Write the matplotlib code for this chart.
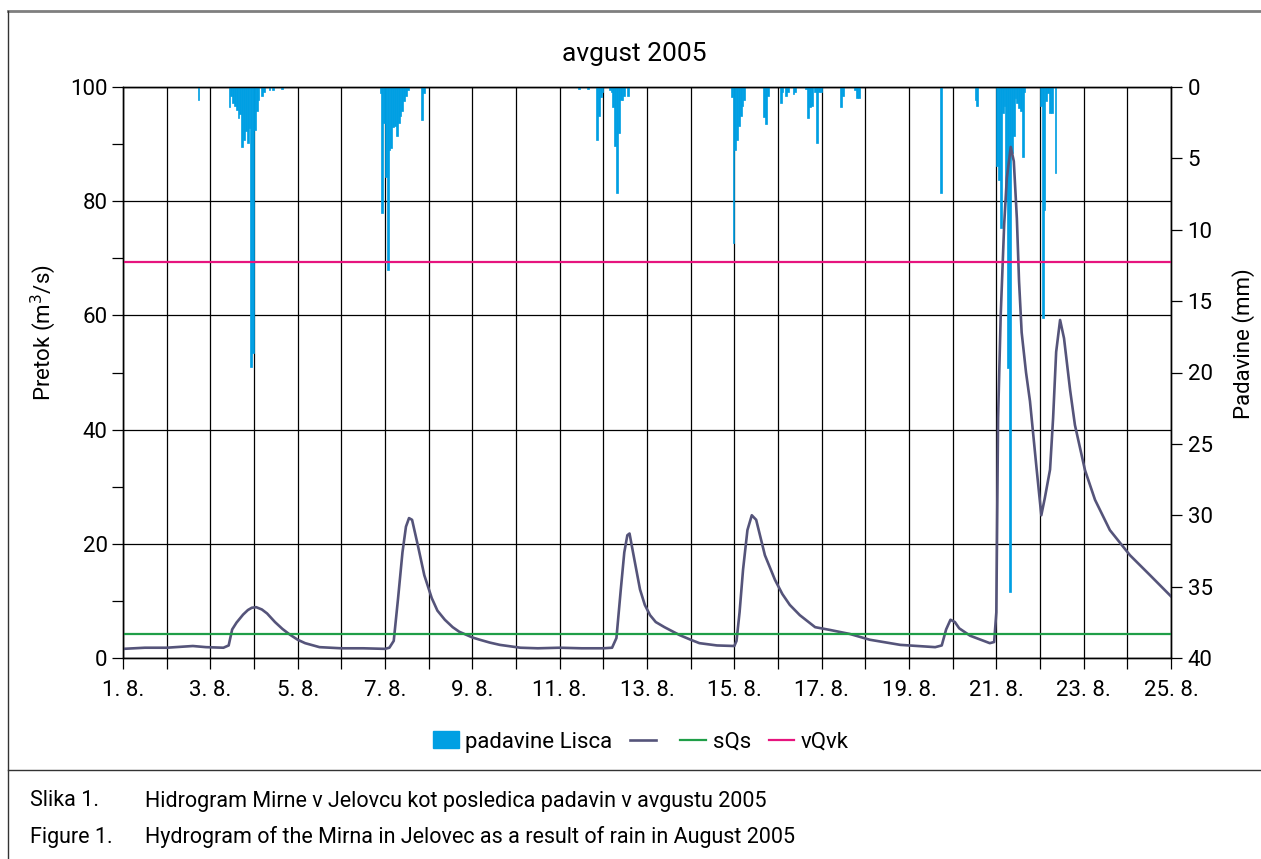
import matplotlib
matplotlib.use("Agg")
import matplotlib.pyplot as plt
from matplotlib.lines import Line2D
from matplotlib.patches import Patch
from matplotlib.ticker import MultipleLocator

plt.rcParams['font.family'] = ['Roboto', 'DejaVu Sans']

# Hourly rainfall at Lisca (hours counted from 1. 8. 00:00), mm
rain_hours = [41,
              58, 59, 60, 61, 62, 63, 64, 65, 66, 67, 68, 69, 70, 71, 72, 73, 74, 76, 77, 80, 82, 87,
              141, 142, 143, 144, 145, 146, 147, 148, 149, 150, 151, 152, 153, 154, 155, 156, 164, 165,
              250, 255, 260, 261, 262, 263, 267, 268, 269, 270, 271, 272, 273, 274, 275, 277,
              334, 335, 336, 337, 338, 339, 340, 341, 352, 353, 354, 361, 362, 364, 365, 368, 369,
              375, 376, 377, 378, 380, 381, 382, 383, 394, 395, 402, 403, 404,
              449, 468, 469,
              480, 481, 482, 483, 484, 485, 486, 487, 488, 489, 490, 491, 492, 493, 494, 495,
              504, 505, 506, 507, 508, 509, 510, 512]
rain_mm = [0.9,
           1.4, 0.6, 1.1, 1.3, 1.6, 2.2, 1.9, 4.2, 3.7, 3.1, 3.9, 2.9, 19.6, 18.6, 3.0, 1.7, 0.9, 0.6, 0.35, 0.2, 0.2, 0.15,
           0.4, 8.8, 2.5, 6.3, 12.8, 4.4, 4.3, 2.8, 2.7, 3.4, 2.5, 2.0, 1.7, 1.0, 0.6, 0.2, 2.3, 0.4,
           0.15, 0.15, 3.7, 2.0, 0.7, 0.35, 0.2, 0.35, 1.4, 4.1, 7.4, 3.2, 0.9, 0.9, 0.6, 0.6,
           0.7, 10.9, 4.4, 3.7, 2.7, 2.0, 1.3, 0.9, 2.1, 2.6, 0.6, 1.1, 0.35, 0.6, 0.35, 0.5, 0.35,
           0.15, 2.2, 1.4, 1.3, 0.35, 3.9, 0.35, 0.35, 1.4, 0.6, 0.2, 0.8, 0.8,
           7.4, 0.9, 1.3,
           5.5, 6.5, 9.9, 1.8, 1.3, 7.9, 19.7, 35.4, 4.6, 3.4, 0.8, 1.1, 1.5, 1.7, 4.9, 0.35,
           1.3, 16.2, 8.6, 1.0, 0.4, 1.8, 1.8, 6.0]

# Discharge of the Mirna at Jelovec (day of August, m3/s)
q_day = [1.0, 1.5, 2.0, 2.4, 2.6, 2.9, 3.3, 3.42, 3.5, 3.6, 3.75, 3.86, 3.95, 4.05, 4.18, 4.3, 4.48,
         4.65, 4.82, 5.0, 5.17, 5.5, 6.0, 6.5, 7.0, 7.1, 7.2, 7.3, 7.4, 7.48, 7.55, 7.62, 7.75, 7.9,
         8.07, 8.2, 8.37, 8.55, 8.7, 9.0, 9.17, 9.4, 9.63, 10.1, 10.5, 11.0, 11.5, 12.0, 12.2, 12.3,
         12.4, 12.48, 12.55, 12.6, 12.68, 12.84, 12.95, 13.07, 13.2, 13.4, 13.75, 14.0, 14.2, 14.6,
         15.0, 15.05, 15.12, 15.2, 15.3, 15.4, 15.5, 15.7, 15.93, 16.1, 16.27, 16.5, 16.85, 17.2,
         17.65, 18.1, 18.8, 19.6, 19.75, 19.85, 19.95, 20.05, 20.15, 20.4, 20.85, 20.95, 21.0,
         21.04, 21.1, 21.18, 21.24, 21.33, 21.4, 21.47, 21.52, 21.58, 21.68, 21.77, 21.92, 22.03,
         22.11, 22.23, 22.3, 22.37, 22.46, 22.55, 22.69, 22.8, 23.03, 23.26, 23.6, 24.06, 24.52, 25.0]
q_val = [1.6, 1.8, 1.8, 2.0, 2.1, 1.9, 1.8, 2.2, 5.0, 6.2, 7.6, 8.4, 8.8, 8.9, 8.5, 7.8, 6.3,
         5.1, 4.1, 3.2, 2.6, 1.9, 1.7, 1.7, 1.6, 1.8, 3.0, 10.5, 18.5, 23.0, 24.5, 24.2, 19.8, 14.5,
         10.5, 8.3, 6.7, 5.4, 4.6, 3.6, 3.2, 2.7, 2.3, 1.8, 1.7, 1.8, 1.7, 1.7, 1.8, 3.5,
         12.0, 18.5, 21.5, 21.8, 18.5, 12.0, 9.3, 7.5, 6.3, 5.4, 4.0, 3.2, 2.6, 2.2,
         2.1, 3.0, 8.0, 15.5, 22.4, 25.0, 24.2, 18.0, 13.7, 11.2, 9.3, 7.5, 5.4, 4.9,
         4.2, 3.2, 2.3, 1.9, 2.2, 5.0, 6.7, 6.3, 5.2, 3.9, 2.6, 2.8, 8.0,
         42.0, 60.0, 76.0, 84.0, 89.5, 87.0, 77.0, 66.0, 57.0, 50.0, 45.0, 33.3, 25.0,
         28.0, 33.0, 42.0, 53.6, 59.2, 56.0, 46.9, 40.8, 32.9, 27.7, 22.4, 18.0, 14.5, 10.8]

sqs = 4.2     # mean discharge
vqvk = 69.3   # high discharge level

day_ticks = list(range(1, 26))
day_labels = [f"{d}. 8." if d % 2 == 1 else "" for d in day_ticks]

fs = 16

fig = plt.figure(figsize=(12.61, 8.59), dpi=100)
ax = fig.add_axes([123 / 1261, 1 - 658 / 859, 1048 / 1261, 571 / 859])
ax_rain = ax.twinx()
ax_q = ax.twinx()

# bottom layer: grid and left axis
ax.set_xlim(1, 25)
ax.set_ylim(0, 100)
ax.set_xticks(day_ticks)
ax.set_xticklabels(day_labels)
ax.yaxis.set_major_locator(MultipleLocator(20))
ax.yaxis.set_minor_locator(MultipleLocator(10))
ax.grid(True, which='major', color='black', linewidth=0.9)
ax.tick_params(axis='both', which='both', direction='out', length=8, width=0.9,
               labelsize=fs, colors='black')
ax.tick_params(axis='x', pad=8)
ax.tick_params(axis='y', pad=3)
ax.set_ylabel("Pretok (m$^3$/s)", fontsize=fs)
ax.yaxis.set_label_coords(-0.062, 0.57)

# middle layer: rainfall, inverted right axis
ax_rain.bar([1 + h / 24 for h in rain_hours], rain_mm, width=1 / 24, bottom=0, align='edge',
            color='#009fe3', edgecolor='#009fe3', linewidth=0.5, label='padavine Lisca')
ax_rain.set_ylim(40, 0)
ax_rain.yaxis.set_major_locator(MultipleLocator(5))
ax_rain.tick_params(axis='y', direction='out', length=8, width=0.9, labelsize=fs, pad=4)
ax_rain.set_ylabel("Padavine (mm)", fontsize=fs)
ax_rain.yaxis.set_label_coords(1.058, 0.55)

# top layer: discharge lines
ax_q.set_ylim(0, 100)
ax_q.set_yticks([])
l_q, = ax_q.plot(q_day, q_val, color='#55547a', linewidth=1.9, label='')
l_s = ax_q.axhline(sqs, color='#1f9e48', linewidth=1.6, label='sQs')
l_v = ax_q.axhline(vqvk, color='#e6147e', linewidth=1.6, label='vQvk')

for a in (ax, ax_rain, ax_q):
    for s in a.spines.values():
        s.set_color('black')
        s.set_linewidth(0.9)
    a.patch.set_visible(False)
ax.patch.set_visible(True)

fig.text(634 / 1261, 1 - 54 / 859, "avgust 2005", ha='center', va='center', fontsize=19)

handles = [Patch(color='#009fe3'), l_q, l_s, l_v]
labels = ['padavine Lisca', '', 'sQs', 'vQvk']
fig.legend(handles, labels, loc='center', bbox_to_anchor=(641 / 1261, 1 - 742 / 859), ncol=4,
           frameon=False, fontsize=fs, handlelength=1.15, handleheight=0.8,
           columnspacing=0.8, handletextpad=0.3)

# frame and caption
cfs = 15.5
fig.add_artist(Line2D([8 / 1261, 1], [1 - 11 / 859, 1 - 11 / 859], transform=fig.transFigure,
                      color='#7f7f7f', linewidth=2))
fig.add_artist(Line2D([8 / 1261, 8 / 1261], [0, 1 - 11 / 859], transform=fig.transFigure,
                      color='#333333', linewidth=1))
fig.add_artist(Line2D([8 / 1261, 1], [1 - 770 / 859, 1 - 770 / 859], transform=fig.transFigure,
                      color='#333333', linewidth=1))
fig.text(30 / 1261, 1 - 801 / 859, "Slika 1.", ha='left', va='center', fontsize=cfs)
fig.text(145 / 1261, 1 - 801 / 859, "Hidrogram Mirne v Jelovcu kot posledica padavin v avgustu 2005",
         ha='left', va='center', fontsize=cfs)
fig.text(30 / 1261, 1 - 837 / 859, "Figure 1.", ha='left', va='center', fontsize=cfs)
fig.text(145 / 1261, 1 - 837 / 859, "Hydrogram of the Mirna in Jelovec as a result of rain in August 2005",
         ha='left', va='center', fontsize=cfs)

fig.savefig("out.png", dpi=100)
